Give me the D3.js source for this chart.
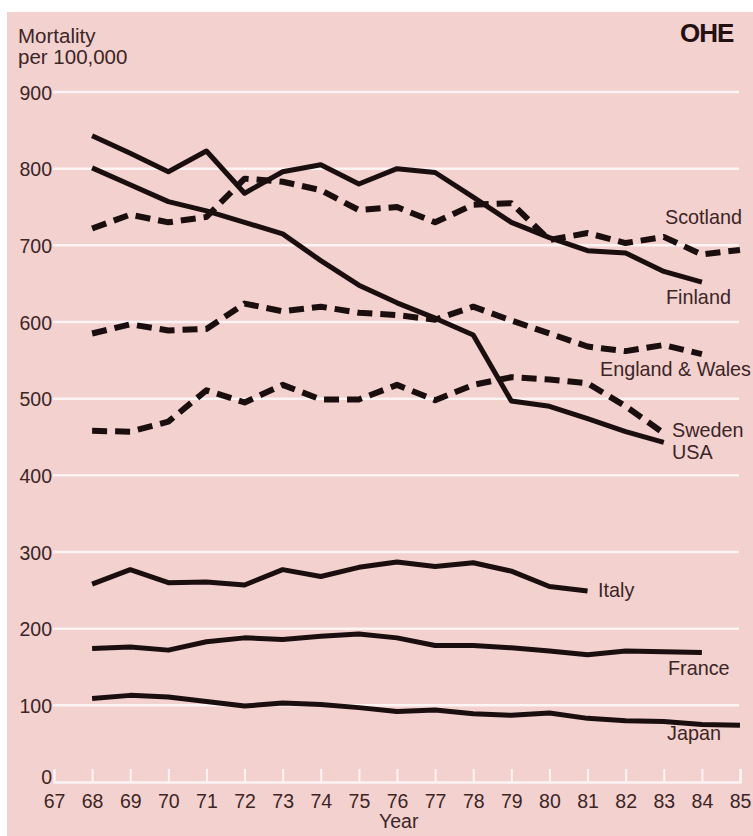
<!DOCTYPE html>
<html><head><meta charset="utf-8">
<script src="https://cdn.jsdelivr.net/npm/d3@7"></script>
<style>
body{margin:0;background:#ffffff}
text{font-family:"Liberation Sans",Arial,Helvetica,sans-serif}
</style>
</head><body>
<svg id="chart" width="753" height="836"></svg>
<script>
// ---- data (mortality per 100,000) ----
const xTicks = d3.range(67, 86);           // 67 .. 85
const yTicks = d3.range(0, 1000, 100);     // 0 .. 900

const finlandStart = 68;
const finland  = [843, 820, 796, 823, 768, 796, 805, 780, 800, 795, 763, 730, 710, 693, 690, 666, 652];
const usaStart = 68;
const usa      = [801, 779, 757, 745, 730, 715, 680, 648, 625, 605, 583, 497, 490, 474, 457, 443];
const scotlandStart = 68;
const scotland = [722, 740, 730, 737, 787, 783, 772, 746, 750, 730, 753, 755, 707, 716, 703, 711, 688, 694];
const englandStart = 68;
const england  = [585, 597, 589, 591, 624, 614, 620, 612, 609, 603, 620, 602, 585, 568, 562, 570, 558];
const swedenStart = 68;
const sweden   = [458, 457, 470, 511, 495, 518, 499, 499, 518, 498, 518, 528, 525, 520, 490, 455];
const italyStart = 68;
const italy    = [258, 277, 260, 261, 257, 277, 268, 280, 287, 281, 286, 275, 255, 249];
const franceStart = 68;
const france   = [174, 176, 172, 183, 188, 186, 190, 193, 188, 178, 178, 175, 171, 166, 171, 170, 169];
const japanStart = 68;
const japan    = [109, 113, 111, 105, 99, 103, 101, 97, 92, 94, 89, 87, 90, 83, 80, 79, 75, 74];

const seriesNames = ["Finland", "USA", "Scotland", "England & Wales", "Sweden", "Italy", "France", "Japan"];
const seriesData  = [finland, usa, scotland, england, sweden, italy, france, japan];
const seriesStart = [finlandStart, usaStart, scotlandStart, englandStart, swedenStart, italyStart, franceStart, japanStart];
const seriesDashed = [false, false, true, true, true, false, false, false];

// ---- drawing ----
const W = 753, H = 836;
const svg = d3.select("#chart");
const ink = "#1a0e0e";
const textCol = "#3d2526";
const gridCol = "#fdf4f3";

svg.append("rect").attr("x", 7).attr("y", 12).attr("width", W - 7).attr("height", H - 12)
  .attr("fill", "#f2d1cf");

const x = d3.scaleLinear().domain([67, 85]).range([54, 740]);
const y = d3.scaleLinear().domain([0, 900]).range([782, 92]);

// gridlines
svg.append("g").selectAll("line").data(yTicks.filter(d => d > 0)).join("line")
  .attr("x1", x(67) - 1).attr("x2", x(85) - 1)
  .attr("y1", d => y(d)).attr("y2", d => y(d))
  .attr("stroke", gridCol).attr("stroke-width", 2.5);

// x axis (white line with upward ticks)
const xAxis = d3.axisBottom(x).tickValues(xTicks).tickSize(-13).tickPadding(17).tickFormat(d3.format("d"));
const gx = svg.append("g").attr("transform", `translate(0,${y(0)})`).call(xAxis);
gx.select(".domain").attr("stroke", gridCol).attr("stroke-width", 2.5);
gx.selectAll(".tick line").attr("stroke", gridCol).attr("stroke-width", 2);
gx.selectAll(".tick line").filter(d => d === 67).remove();
gx.selectAll(".tick text").attr("fill", textCol).attr("font-size", 19.5)
  .attr("font-family", '"Liberation Sans",Arial,sans-serif').attr("dy", "0.45em");

// y axis labels
const yAxis = d3.axisLeft(y).tickValues(yTicks).tickSize(0).tickPadding(0).tickFormat(d3.format("d"));
const gy = svg.append("g").attr("transform", `translate(52,0)`).call(yAxis);
gy.select(".domain").remove();
gy.selectAll(".tick text").attr("fill", textCol).attr("font-size", 19.5)
  .attr("font-family", '"Liberation Sans",Arial,sans-serif')
  .attr("dy", d => d === 0 ? "0.08em" : "0.36em");

// axis titles
svg.append("text").attr("x", 18).attr("y", 43).attr("fill", textCol).attr("font-size", 20.5).text("Mortality");
svg.append("text").attr("x", 18).attr("y", 64).attr("fill", textCol).attr("font-size", 20.5).text("per 100,000");
svg.append("text").attr("x", 379).attr("y", 828).attr("fill", textCol).attr("font-size", 19.5).text("Year");

// logo
svg.append("text").attr("x", 680).attr("y", 42).attr("fill", "#241010")
  .attr("font-size", 26).attr("font-weight", "bold").attr("letter-spacing", -1).text("OHE");

// lines
const line = d3.line().x(d => x(d[0])).y(d => y(d[1]));
seriesData.forEach((vals, i) => {
  const pts = vals.map((v, j) => [seriesStart[i] + j, v]);
  svg.append("path").datum(pts)
    .attr("d", line)
    .attr("fill", "none")
    .attr("stroke", ink)
    .attr("stroke-width", seriesDashed[i] ? 6 : 5)
    .attr("stroke-linejoin", "round")
    .attr("stroke-linecap", "butt")
    .attr("stroke-dasharray", seriesDashed[i] ? "15,8" : null);
});

// series labels
const labels = [
  {t: "Scotland", x: 665, y: 224},
  {t: "Finland", x: 666, y: 304},
  {t: "England & Wales", x: 600, y: 376},
  {t: "Sweden", x: 672, y: 437},
  {t: "USA", x: 672, y: 459},
  {t: "Italy", x: 598, y: 597},
  {t: "France", x: 668, y: 675},
  {t: "Japan", x: 667, y: 740}
];
svg.append("g").selectAll("text").data(labels).join("text")
  .attr("x", d => d.x).attr("y", d => d.y)
  .attr("fill", textCol).attr("font-size", 19.8).text(d => d.t);
</script>
</body></html>
